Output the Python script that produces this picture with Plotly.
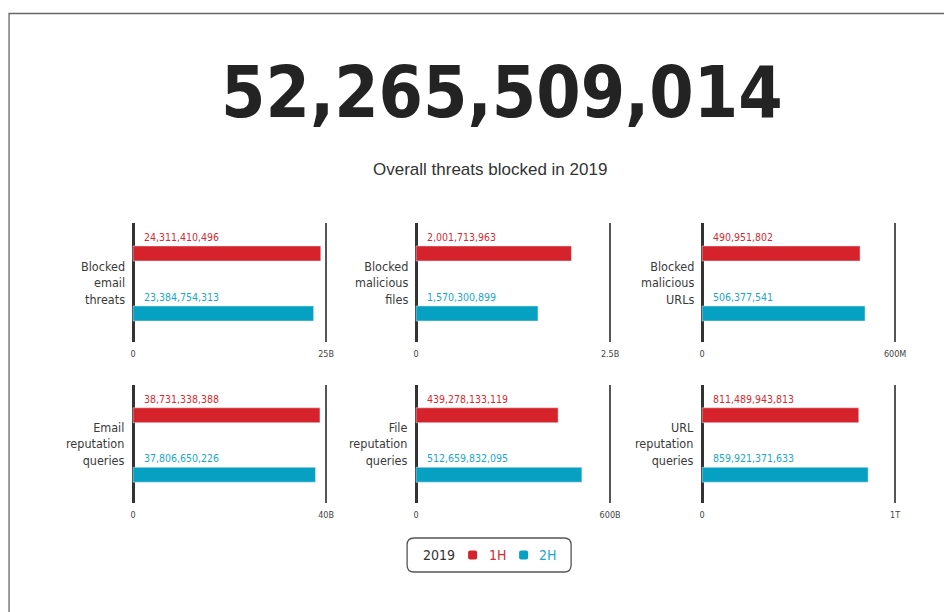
import plotly.graph_objects as go

# chart data
total_blocked = 52265509014
categories = [
    "Blocked<br>email<br>threats",
    "Blocked<br>malicious<br>files",
    "Blocked<br>malicious<br>URLs",
    "Email<br>reputation<br>queries",
    "File<br>reputation<br>queries",
    "URL<br>reputation<br>queries",
]
first_half = [24311410496, 2001713963, 490951802, 38731338388, 439278133119, 811489943813]
second_half = [23384754313, 1570300899, 506377541, 37806650226, 512659832095, 859921371633]
axis_max = [25e9, 2.5e9, 600e6, 40e9, 600e9, 1e12]
axis_max_labels = ["25B", "2.5B", "600M", "40B", "600B", "1T"]
halves = ["1H", "2H"]
legend_year = "2019"

RED = '#d6222b'
BLUE = '#06a0c3'
RED_TXT = '#d72a33'
BLUE_TXT = '#1ba6cb'
OFF = 8  # page body margin around the plot div
KX = 0.9925  # horizontal squeeze seen in the captured page
W, H = 952 - OFF, 612 - OFF
FONT = 'DejaVu Sans Condensed, Liberation Sans, sans-serif'

# panel placement in screen pixels (zero line x, max line x / top, bottom)
col_px = [(133, 326), (416, 610), (702, 895)]
row_px = [(223, 342), (385, 503)]
PAD = 0.02


def fx(x):
    return (x / KX - OFF) / W


def fy(y):
    return 1 - (y - OFF) / H


def rounded(x0, y0, x1, y1, rad):
    def p(x, y):
        return f'{fx(x):.5f},{fy(y):.5f}'
    return (f'M {p(x0 + rad, y0)} L {p(x1 - rad, y0)} Q {p(x1, y0)} {p(x1, y0 + rad)} '
            f'L {p(x1, y1 - rad)} Q {p(x1, y1)} {p(x1 - rad, y1)} '
            f'L {p(x0 + rad, y1)} Q {p(x0, y1)} {p(x0, y1 - rad)} '
            f'L {p(x0, y0 + rad)} Q {p(x0, y0)} {p(x0 + rad, y0)} Z')


fig = go.Figure()

for i in range(6):
    r, c = divmod(i, 3)
    n = '' if i == 0 else str(i + 1)
    x0, x1 = col_px[c]
    y0, y1 = row_px[r]
    w = x1 - x0

    fig.add_trace(go.Bar(
        x=[second_half[i]], y=[halves[1]], orientation='h', width=0.25,
        marker_color=BLUE, name=halves[1], hoverinfo='skip',
        xaxis='x' + n, yaxis='y' + n,
    ))
    fig.add_trace(go.Bar(
        x=[first_half[i]], y=[halves[0]], orientation='h', width=0.25,
        marker_color=RED, name=halves[0], hoverinfo='skip',
        xaxis='x' + n, yaxis='y' + n,
    ))

    m = axis_max[i]
    fig.layout['xaxis' + n] = dict(
        domain=[fx(x0 - PAD * w), fx(x1 + PAD * w)], anchor='y' + n,
        range=[-PAD * m, (1 + PAD) * m],
        tickvals=[0, m], ticktext=['0', axis_max_labels[i]],
        showgrid=True, gridcolor='#555555', gridwidth=2,
        zeroline=True, zerolinecolor='#333333', zerolinewidth=3,
        showline=False, ticks='', ticklabelstandoff=5,
        tickfont=dict(family=FONT, size=9, color='#444444'),
        fixedrange=True,
    )
    fig.layout['yaxis' + n] = dict(
        domain=[fy(y1), fy(y0)], anchor='x' + n, type='category',
        categoryorder='array', categoryarray=[halves[1], halves[0]],
        range=[-0.475, 1.508], showticklabels=False, showgrid=False,
        zeroline=False, showline=False, fixedrange=True,
    )

    fig.add_annotation(
        xref='x' + n, yref='y' + n, x=0, y=halves[0], text=f'{first_half[i]:,}',
        showarrow=False, xanchor='left', yanchor='middle', xshift=9, yshift=16.5,
        font=dict(family=FONT, size=10.5, color=RED_TXT),
    )
    fig.add_annotation(
        xref='x' + n, yref='y' + n, x=0, y=halves[1], text=f'{second_half[i]:,}',
        showarrow=False, xanchor='left', yanchor='middle', xshift=9, yshift=16.5,
        font=dict(family=FONT, size=10.5, color=BLUE_TXT),
    )
    fig.add_annotation(
        xref=f'x{n} domain', yref=f'y{n} domain', x=PAD / (1 + 2 * PAD), y=0.5,
        text=categories[i], showarrow=False, xanchor='right', yanchor='middle',
        align='right', xshift=-6,
        font=dict(family=FONT, size=12.5, color='#3a3a3a'),
    )

# headline number and subtitle
fig.add_annotation(
    xref='paper', yref='paper', x=fx(501.5), y=fy(92),
    text=f'<b>{total_blocked:,}</b>', showarrow=False,
    xanchor='center', yanchor='middle',
    font=dict(family=FONT, size=71, color='#232323'),
)
fig.add_annotation(
    xref='paper', yref='paper', x=fx(489.5), y=fy(170),
    text='Overall threats blocked in 2019', showarrow=False,
    xanchor='center', yanchor='middle',
    font=dict(family='Liberation Sans', size=17, color='#333333'),
)

# outer frame
fig.add_shape(type='rect', xref='paper', yref='paper',
              x0=fx(9), x1=1.05, y0=-0.05, y1=fy(13.5),
              line=dict(color='#666666', width=1.3))

# legend box
fig.add_shape(type='path', xref='paper', yref='paper', path=rounded(407, 538, 571, 572, 7),
              line=dict(color='#555555', width=1.3))
fig.add_annotation(xref='paper', yref='paper', x=fx(421), y=fy(555), text=legend_year,
                   showarrow=False, xanchor='left', yanchor='middle',
                   font=dict(family=FONT, size=14, color='#333333'))
for name, sq_x, txt_x, col, tcol in [(halves[0], 468, 487, RED, RED_TXT),
                                     (halves[1], 519, 537, BLUE, BLUE_TXT)]:
    fig.add_shape(type='path', xref='paper', yref='paper',
                  path=rounded(sq_x, 550.5, sq_x + 9, 559.5, 2),
                  fillcolor=col, line=dict(width=0))
    fig.add_annotation(xref='paper', yref='paper', x=fx(txt_x), y=fy(555), text=name,
                       showarrow=False, xanchor='left', yanchor='middle',
                       font=dict(family=FONT, size=14, color=tcol))

fig.update_layout(
    width=W, height=H,
    margin=dict(l=0, r=0, t=0, b=0),
    paper_bgcolor='white', plot_bgcolor='white',
    barmode='overlay',
    showlegend=False,
)

fig.write_html("out.html")
